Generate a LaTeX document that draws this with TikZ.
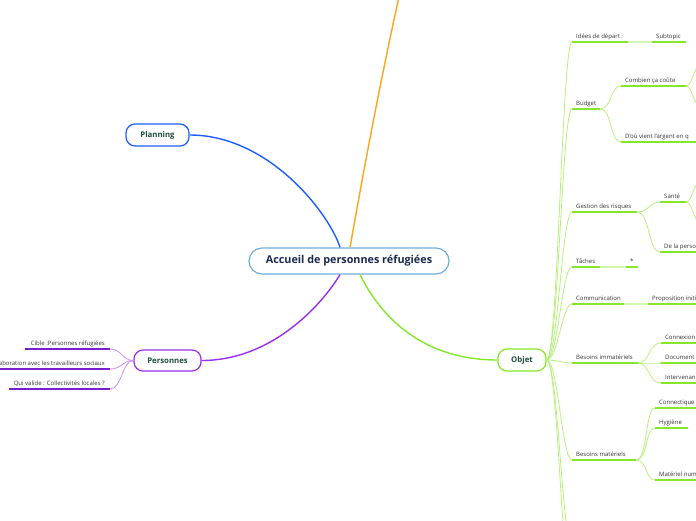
\documentclass[tikz,border=0pt]{standalone}
\usepackage{fontspec}
\setmainfont{Open Sans}
\definecolor{navy}{HTML}{1B2A4E}
\definecolor{cblue}{HTML}{6FAEDC}
\definecolor{pblue}{HTML}{1F5CFF}
\definecolor{dgreen}{HTML}{1E4D3B}
\definecolor{ppl}{HTML}{9A2EF0}
\definecolor{pplul}{HTML}{7A1FD0}
\definecolor{pplcn}{HTML}{C690F5}
\definecolor{grn}{HTML}{84E82A}
\definecolor{grnul}{HTML}{86E62A}
\definecolor{grncn}{HTML}{B8F07E}
\definecolor{grnlt}{HTML}{D4F7B0}
\definecolor{orng}{HTML}{FFA31A}
\definecolor{txt}{HTML}{333333}
\newcommand\rleaf[5]{%
  \coordinate (#1s) at (#2,#4); \coordinate (#1e) at (#3,#4);
  \draw[ulg] (#1s) -- (#1e);
  \node[lbl, anchor=base west] (#1t) at ([shift={(4,-4)}]#1s) {#5};}
\newcommand\lleaf[5]{%
  \coordinate (#1s) at (#2,#4); \coordinate (#1e) at (#3,#4);
  \draw[ulp] (#1s) -- (#1e);
  \node[lbl, anchor=base east] (#1t) at ([shift={(-5,-4)}]#1e) {#5};}
\begin{document}
\begin{tikzpicture}[x=1pt,y=-1pt,
  every node/.style={inner sep=0pt},
  lbl/.style={font=\fontsize{6}{7}\selectfont, text=txt},
  ulg/.style={draw=grnul, line width=1.6pt},
  ulp/.style={draw=pplul, line width=1.6pt},
  cng/.style={draw=grncn, line width=0.8pt},
  cnl/.style={draw=grnlt, line width=1.6pt},
  cnp/.style={draw=pplcn, line width=0.8pt},
  topic/.style={rounded corners=9pt, line width=1.2pt, fill=white, text=dgreen,
    font=\bfseries\fontsize{7.8}{9}\selectfont, minimum height=22pt}]
\useasboundingbox (0,0) rectangle (696,520);
\clip (0,0) rectangle (696,520);

% main nodes
\node[rounded corners=13pt, draw=cblue, line width=1.2pt, fill=white, text=navy,
  minimum width=200pt, minimum height=26pt,
  font=\bfseries\fontsize{10.8}{12}\selectfont] (center) at (349,261) {Accueil de personnes réfugiées};
\node[topic, draw=pblue, minimum width=63pt] (planning) at (157.5,135) {Planning};
\node[topic, draw=ppl, minimum width=67pt, minimum height=21pt] (personnes) at (167.5,360.5) {Personnes};
\node[topic, draw=grn, minimum width=48pt] (objet) at (522,360) {Objet};

\coordinate (orangeend) at (405,-30);

% main connectors
\draw[pblue, line width=1.4pt] (planning.east) .. controls (270,135) and (330,215) .. ([xshift=-9pt]center.north);
\draw[orng, line width=1.4pt] ([xshift=1pt]center.north) .. controls (362,180) and (380,80) .. (orangeend);
\draw[ppl, line width=1.4pt] (personnes.east) .. controls (275,360.5) and (325,300) .. ([xshift=-9pt]center.south);
\draw[grn, line width=1.4pt] ([xshift=11pt]center.south) .. controls (385,325) and (430,360) .. (objet.west);

% Personnes children
\lleaf{cible}{25}{110}{349}{Cible :Personnes réfugiées}
\lleaf{collab}{-10}{110}{369}{Collaboration avec les travailleurs sociaux}
\lleaf{valide}{9}{110}{389}{Qui valide : Collectivités locales ?}
\foreach \n in {cible,collab,valide}
  \draw[cnp] (personnes.west) .. controls (122,360.5) and (122,0|-\n e) .. (\n e);

% Objet children
\rleaf{idees}{572}{628}{42}{Idées de départ :}
\rleaf{budget}{572}{600}{109}{Budget}
\rleaf{gestion}{572}{637}{212}{Gestion des risques}
\rleaf{taches}{572}{600}{267}{Tâches}
\rleaf{comm}{572}{624}{304}{Communication}
\rleaf{bimm}{572}{638}{363}{Besoins immatériels}
\rleaf{bmat}{572}{636}{460}{Besoins matériels}
\coordinate (more1s) at (572,545);
\coordinate (more2s) at (572,590);
\foreach \n in {idees,budget,gestion,taches,comm,bimm,bmat,more1,more2}
  \draw[cng] (objet.east) .. controls (558,360) and (562,0|-\n s) .. (\n s);

% Idées -> Subtopic
\rleaf{subtopic}{652}{686}{42}{Subtopic}
\draw[cnl] (ideese) -- (subtopics);

% Budget children
\rleaf{combien}{621}{686}{86}{Combien ça coûte}
\rleaf{dou}{621}{700}{142}{D'où vient l'argent en q}
\foreach \n in {combien,dou}
  \draw[cng] (budgete) .. controls (612,109) and (610,0|-\n s) .. (\n s);
\coordinate (comb1) at (702,66);
\coordinate (comb2) at (702,106);
\foreach \n in {comb1,comb2}
  \draw[cng] (combiene) .. controls (693,86) and (692,0|-\n) .. (\n);

% Gestion children
\rleaf{sante}{660}{686}{202}{Santé}
\rleaf{perso}{660}{700}{252}{De la perso}
\foreach \n in {sante,perso}
  \draw[cng] (gestione) .. controls (650,212) and (648,0|-\n s) .. (\n s);
\coordinate (sante1) at (702,182);
\coordinate (sante2) at (702,222);
\foreach \n in {sante1,sante2}
  \draw[cng] (santee) .. controls (693,202) and (692,0|-\n) .. (\n);

% Tâches -> *
\rleaf{star}{626}{638}{267}{*}
\draw[cnl] (tachese) -- (stars);

% Communication -> Proposition
\rleaf{prop}{648}{700}{304}{Proposition initi}
\draw[cnl] (comme) -- (props);

% Besoins immatériels children
\rleaf{connexion}{661}{700}{343}{Connexion}
\rleaf{document}{661}{700}{363}{Document}
\rleaf{interv}{661}{700}{383}{Intervenan}
\foreach \n in {connexion,document,interv}
  \draw[cng] (bimme) .. controls (650,363) and (648,0|-\n s) .. (\n s);

% Besoins matériels children
\rleaf{connect}{655}{700}{408}{Connectique}
\rleaf{hyg}{655}{688}{428}{Hygiène}
\rleaf{matnum}{655}{700}{480}{Matériel num}
\foreach \n in {connect,hyg,matnum}
  \draw[cng] (bmate) .. controls (648,460) and (645,0|-\n s) .. (\n s);
\end{tikzpicture}
\end{document}
